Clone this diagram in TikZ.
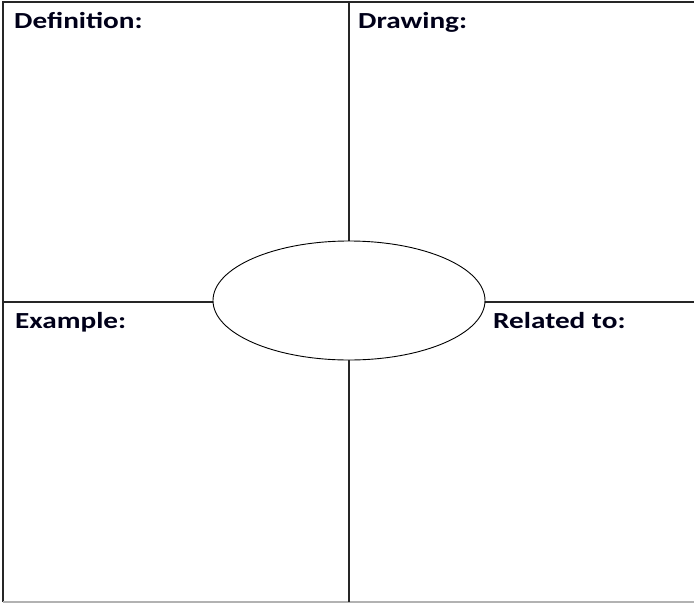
\documentclass[tikz,border=0pt]{standalone}
\usepackage{fontspec}
\setmainfont{Carlito}[FakeStretch=1.27]
\usetikzlibrary{shapes.geometric}

\begin{document}
\begin{tikzpicture}[
  x=1pt,y=-1pt,
  font=\fontsize{23}{27}\selectfont\bfseries,
  frame/.style={line width=1.6pt,draw=black!85},
  label/.style={anchor=base west,inner sep=0pt,text=black!90!blue},
  centre/.style={ellipse,draw,fill=white,line width=.9pt,minimum width=272pt,minimum height=119pt,inner sep=0pt}]
  \useasboundingbox (0,0) rectangle (694,603);
  % corners and crossing
  \coordinate (tl) at (3,2);
  \coordinate (tr) at (694,2);
  \coordinate (bl) at (3,602);
  \coordinate (br) at (694,602);
  \coordinate (top) at (349,2);
  \coordinate (bottom) at (349,602);
  \coordinate (left) at (3,302);
  \coordinate (right) at (694,302);
  \draw[frame] (bl) -- (tl) -- (tr);
  \draw[line width=1.6pt,draw=black!30] (bl) -- (br);
  \draw[frame] (top) -- (bottom);
  \draw[frame] (left) -- (right);
  % the term in the middle
  \node[centre] (term) at (349,300.5) {};
  \node[label] (definition) at (14,28) {Definition:};
  \node[label] (drawing) at (358,28) {Drawing:};
  \node[label] (example) at (15,328) {Example:};
  \node[label] (related) at (493,328) {Related to:};
\end{tikzpicture}
\end{document}
